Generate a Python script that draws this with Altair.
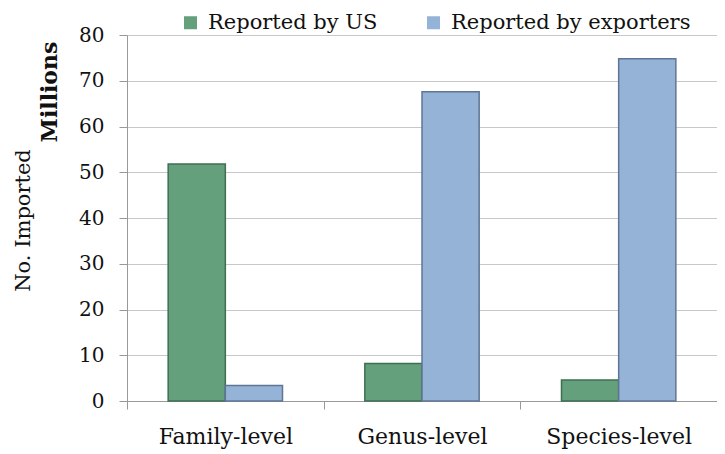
import altair as alt
import pandas as pd

categories = ["Family-level", "Genus-level", "Species-level"]
series = ["Reported by US", "Reported by exporters"]
us_values = [51.8, 8.2, 4.6]
exporter_values = [3.4, 67.6, 74.8]
y_ticks = [0, 10, 20, 30, 40, 50, 60, 70, 80]

fill_colors = ["#65a07c", "#95b3d7"]
stroke_colors = ["#3f6e53", "#5f7595"]

rows = []
for c, u, e in zip(categories, us_values, exporter_values):
    rows.append({"level": c, "series": series[0], "value": u})
    rows.append({"level": c, "series": series[1], "value": e})
df = pd.DataFrame(rows)

FONT = "DejaVu Serif"

bars = alt.Chart(df).mark_bar(strokeWidth=1.5).encode(
    x=alt.X(
        "level:N",
        sort=categories,
        scale=alt.Scale(paddingInner=0, paddingOuter=0),
        axis=alt.Axis(
            title=None, labelAngle=0, tickBand="extent", labelPadding=17,
            labelFont=FONT, labelFontSize=22, labelColor="#111",
            tickSize=8, tickColor="#999", domainColor="#999", grid=False,
        ),
    ),
    xOffset=alt.XOffset(
        "series:N", sort=series,
        scale=alt.Scale(paddingOuter=0.72, paddingInner=0),
    ),
    y=alt.Y(
        "value:Q",
        scale=alt.Scale(domain=[0, 80], nice=False),
        axis=alt.Axis(
            values=y_ticks, title="No. Imported",
            titleFont=FONT, titleFontSize=21, titleFontWeight="normal", titleColor="#111",
            titleX=-104, titleY=185, titleAlign="center", titleBaseline="middle", titleAngle=270,
            labelFont=FONT, labelFontSize=20, labelColor="#111", labelPadding=15,
            tickSize=8, tickColor="#999", domainColor="#999",
            grid=True, gridColor="#c8c8c8",
        ),
    ),
    color=alt.Color(
        "series:N", sort=series,
        scale=alt.Scale(domain=series, range=fill_colors),
        legend=alt.Legend(
            title=None, orient="none", legendX=53, legendY=-23, direction="horizontal",
            symbolType="square", symbolSize=169, symbolStrokeWidth=0,
            labelFont=FONT, labelFontSize=21, labelColor="#111", columnPadding=45,
            labelOffset=7, labelLimit=0,
        ),
    ),
    stroke=alt.Stroke(
        "series:N", sort=series,
        scale=alt.Scale(domain=series, range=stroke_colors), legend=None,
    ),
)

millions = alt.Chart(pd.DataFrame({"t": ["Millions"]})).mark_text(
    font=FONT, fontSize=22, fontWeight="bold", angle=270, color="#111",
    align="center", baseline="middle",
).encode(text="t:N", x=alt.value(-77), y=alt.value(57))

chart = alt.layer(bars, millions).properties(
    width=590, height=366,
    autosize=alt.AutoSizeParams(type="none"),
    padding={"left": 119, "top": 27, "right": 0, "bottom": 53},
).configure_view(stroke=None)

chart.save("out.html", embed_options={"renderer": "svg", "actions": False})
